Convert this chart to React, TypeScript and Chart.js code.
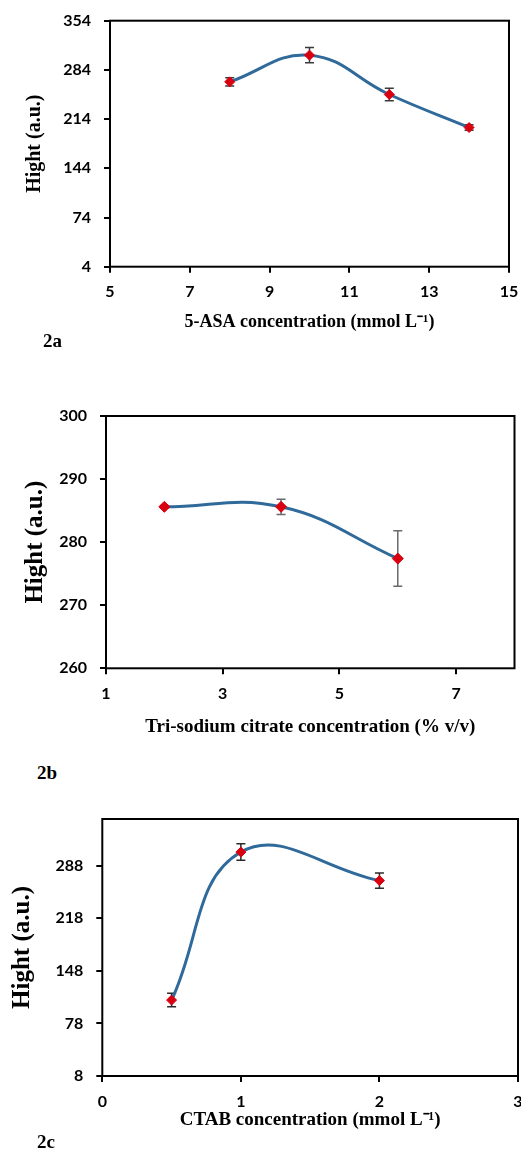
import React, { useEffect, useRef } from 'react';
import { Chart, registerables } from 'chart.js';

Chart.register(...registerables);

// ---------- Panel 2a : 5-ASA ----------
const asaConc = [8, 10, 12, 14];
const asaHeight = [267, 305, 249, 202];
const asaErr = [6, 11, 9, 4];
const asaXTicks = [5, 7, 9, 11, 13, 15];
const asaYTicks = [4, 74, 144, 214, 284, 354];

// ---------- Panel 2b : tri-sodium citrate ----------
const citrateConc = [2, 4, 6];
const citrateHeight = [285.6, 285.6, 277.4];
const citrateErr = [0.2, 1.2, 4.4];
const citrateXTicks = [1, 3, 5, 7];
const citrateYTicks = [260, 270, 280, 290, 300];

// ---------- Panel 2c : CTAB ----------
const ctabConc = [0.5, 1, 2];
const ctabHeight = [109, 306, 268];
const ctabErr = [9, 11, 10];
const ctabXTicks = [0, 1, 2, 3];
const ctabYTicks = [8, 78, 148, 218, 288];

const LINE_COLOR = '#2F6A9B';
const MARKER_COLOR = '#D9000F';
const TICK_FONT = 'Lato, "Liberation Sans", sans-serif';
const TITLE_FONT = '"Liberation Serif", "Times New Roman", serif';

type PanelProps = {
  top: number;
  width: number;
  height: number;
  padTop: number;
  padRight: number;
  yWidth: number;
  xHeight: number;
  xs: number[];
  ys: number[];
  errs: number[];
  xMin: number;
  xMax: number;
  yMin: number;
  yMax: number;
  xTicks: number[];
  yTicks: number[];
  xTitle: string;
  yTitle: string;
  xTitleSize: number;
  yTitleSize: number;
  xTitlePadBottom: number;
  yTitlePadTop: number;
  pointRadius: number;
  errColor: string;
};

function Panel(p: PanelProps) {
  const ref = useRef<HTMLCanvasElement | null>(null);
  useEffect(() => {
    if (!ref.current) return;
    const errorBars = {
      id: 'errorBars',
      beforeDatasetsDraw(chart: any) {
        const { ctx } = chart;
        const sx = chart.scales.x;
        const sy = chart.scales.y;
        ctx.save();
        ctx.strokeStyle = p.errColor;
        ctx.lineWidth = 1.5;
        const cap = 4.5;
        p.xs.forEach((xv, i) => {
          const px = sx.getPixelForValue(xv);
          const t = sy.getPixelForValue(p.ys[i] + p.errs[i]);
          const b = sy.getPixelForValue(p.ys[i] - p.errs[i]);
          ctx.beginPath();
          ctx.moveTo(px, t);
          ctx.lineTo(px, b);
          ctx.moveTo(px - cap, t);
          ctx.lineTo(px + cap, t);
          ctx.moveTo(px - cap, b);
          ctx.lineTo(px + cap, b);
          ctx.stroke();
        });
        ctx.restore();
      },
    };
    const plotBox = {
      id: 'plotBox',
      afterDraw(chart: any) {
        const { ctx, chartArea } = chart;
        ctx.save();
        ctx.strokeStyle = '#000';
        ctx.lineWidth = 2;
        ctx.strokeRect(
          chartArea.left,
          chartArea.top,
          chartArea.right - chartArea.left,
          chartArea.bottom - chartArea.top
        );
        ctx.restore();
      },
    };
    const chart = new Chart(ref.current, {
      type: 'scatter',
      data: {
        datasets: [
          {
            data: p.xs.map((x, i) => ({ x, y: p.ys[i] })),
            showLine: true,
            tension: 0.42,
            borderColor: LINE_COLOR,
            borderWidth: 3,
            pointStyle: 'rectRot',
            pointRadius: p.pointRadius,
            pointBackgroundColor: MARKER_COLOR,
            pointBorderColor: MARKER_COLOR,
            pointBorderWidth: 1,
          } as any,
        ],
      },
      options: {
        animation: false,
        responsive: true,
        maintainAspectRatio: false,
        layout: { padding: { top: p.padTop, right: p.padRight, left: 0, bottom: 0 } },
        plugins: {
          legend: { display: false },
          tooltip: { enabled: false },
        },
        scales: {
          x: {
            type: 'linear',
            min: p.xMin,
            max: p.xMax,
            afterBuildTicks: (axis: any) => {
              axis.ticks = p.xTicks.map((v) => ({ value: v }));
            },
            afterFit: (axis: any) => {
              axis.height = p.xHeight;
              axis.paddingLeft = 0;
              axis.paddingRight = 0;
            },
            grid: {
              display: true,
              drawOnChartArea: false,
              drawTicks: true,
              tickLength: 6,
              color: '#000',
              lineWidth: 2,
            },
            border: { display: false },
            ticks: {
              padding: 10,
              maxRotation: 0,
              autoSkip: false,
              color: '#000',
              font: { family: TICK_FONT, size: 16, weight: 'bold' },
              callback: (v: any) => String(v),
            },
            title: {
              display: true,
              text: p.xTitle,
              color: '#000',
              font: { family: TITLE_FONT, size: p.xTitleSize, weight: 'bold' },
              padding: { top: 0, bottom: p.xTitlePadBottom },
            },
          },
          y: {
            type: 'linear',
            min: p.yMin,
            max: p.yMax,
            afterBuildTicks: (axis: any) => {
              axis.ticks = p.yTicks.map((v) => ({ value: v }));
            },
            afterFit: (axis: any) => {
              axis.width = p.yWidth;
              axis.paddingTop = 0;
              axis.paddingBottom = 0;
            },
            grid: {
              display: true,
              drawOnChartArea: false,
              drawTicks: true,
              tickLength: 6,
              color: '#000',
              lineWidth: 2,
            },
            border: { display: false },
            ticks: {
              padding: 13,
              autoSkip: false,
              color: '#000',
              font: { family: TICK_FONT, size: 16, weight: 'bold' },
              callback: (v: any) => String(v),
            },
            title: {
              display: true,
              text: p.yTitle,
              color: '#000',
              font: { family: TITLE_FONT, size: p.yTitleSize, weight: 'bold' },
              padding: { top: p.yTitlePadTop, bottom: 0 },
            },
          },
        },
      } as any,
      plugins: [errorBars, plotBox],
    });
    return () => chart.destroy();
  }, []);
  return (
    <div style={{ position: 'absolute', left: 0, top: p.top, width: p.width, height: p.height }}>
      <canvas ref={ref} />
    </div>
  );
}

const labelStyle: React.CSSProperties = {
  position: 'absolute',
  fontFamily: TITLE_FONT,
  fontWeight: 'bold',
  fontSize: 19,
  lineHeight: '19px',
  color: '#000',
  margin: 0,
};

export default function App() {
  return (
    <div
      style={{
        position: 'absolute',
        left: 0,
        top: 0,
        width: 521,
        height: 1163,
        overflow: 'hidden',
        background: '#fff',
      }}
    >
      <Panel
        top={0}
        width={521}
        height={335}
        padTop={20.7}
        padRight={12}
        yWidth={110}
        xHeight={68.3}
        xs={asaConc}
        ys={asaHeight}
        errs={asaErr}
        xMin={5}
        xMax={15}
        yMin={4}
        yMax={354}
        xTicks={asaXTicks}
        yTicks={asaYTicks}
        xTitle="5-ASA concentration (mmol L⁻¹)"
        yTitle="Hight (a.u.)"
        xTitleSize={18}
        yTitleSize={20}
        xTitlePadBottom={2.2}
        yTitlePadTop={23}
        pointRadius={5}
        errColor="#3a3a3a"
      />
      <div style={{ ...labelStyle, left: 43, top: 330.5 }}>2a</div>

      <Panel
        top={390}
        width={521}
        height={355}
        padTop={26}
        padRight={6}
        yWidth={106}
        xHeight={76.7}
        xs={citrateConc}
        ys={citrateHeight}
        errs={citrateErr}
        xMin={1}
        xMax={8}
        yMin={260}
        yMax={300}
        xTicks={citrateXTicks}
        yTicks={citrateYTicks}
        xTitle="Tri-sodium citrate concentration (% v/v)"
        yTitle="Hight (a.u.)"
        xTitleSize={19}
        yTitleSize={25}
        xTitlePadBottom={6.9}
        yTitlePadTop={21}
        pointRadius={5.5}
        errColor="#6a6a6a"
      />
      <div style={{ ...labelStyle, left: 37, top: 763 }}>2b</div>

      <Panel
        top={795}
        width={524}
        height={340}
        padTop={24}
        padRight={5}
        yWidth={102.3}
        xHeight={59}
        xs={ctabConc}
        ys={ctabHeight}
        errs={ctabErr}
        xMin={0}
        xMax={3}
        yMin={8}
        yMax={350}
        xTicks={ctabXTicks}
        yTicks={ctabYTicks}
        xTitle="CTAB concentration (mmol L⁻¹)"
        yTitle="Hight (a.u.)"
        xTitleSize={19}
        yTitleSize={25}
        xTitlePadBottom={3.6}
        yTitlePadTop={7.5}
        pointRadius={5}
        errColor="#2a2a2a"
      />
      <div style={{ ...labelStyle, left: 37, top: 1132 }}>2c</div>
    </div>
  );
}
